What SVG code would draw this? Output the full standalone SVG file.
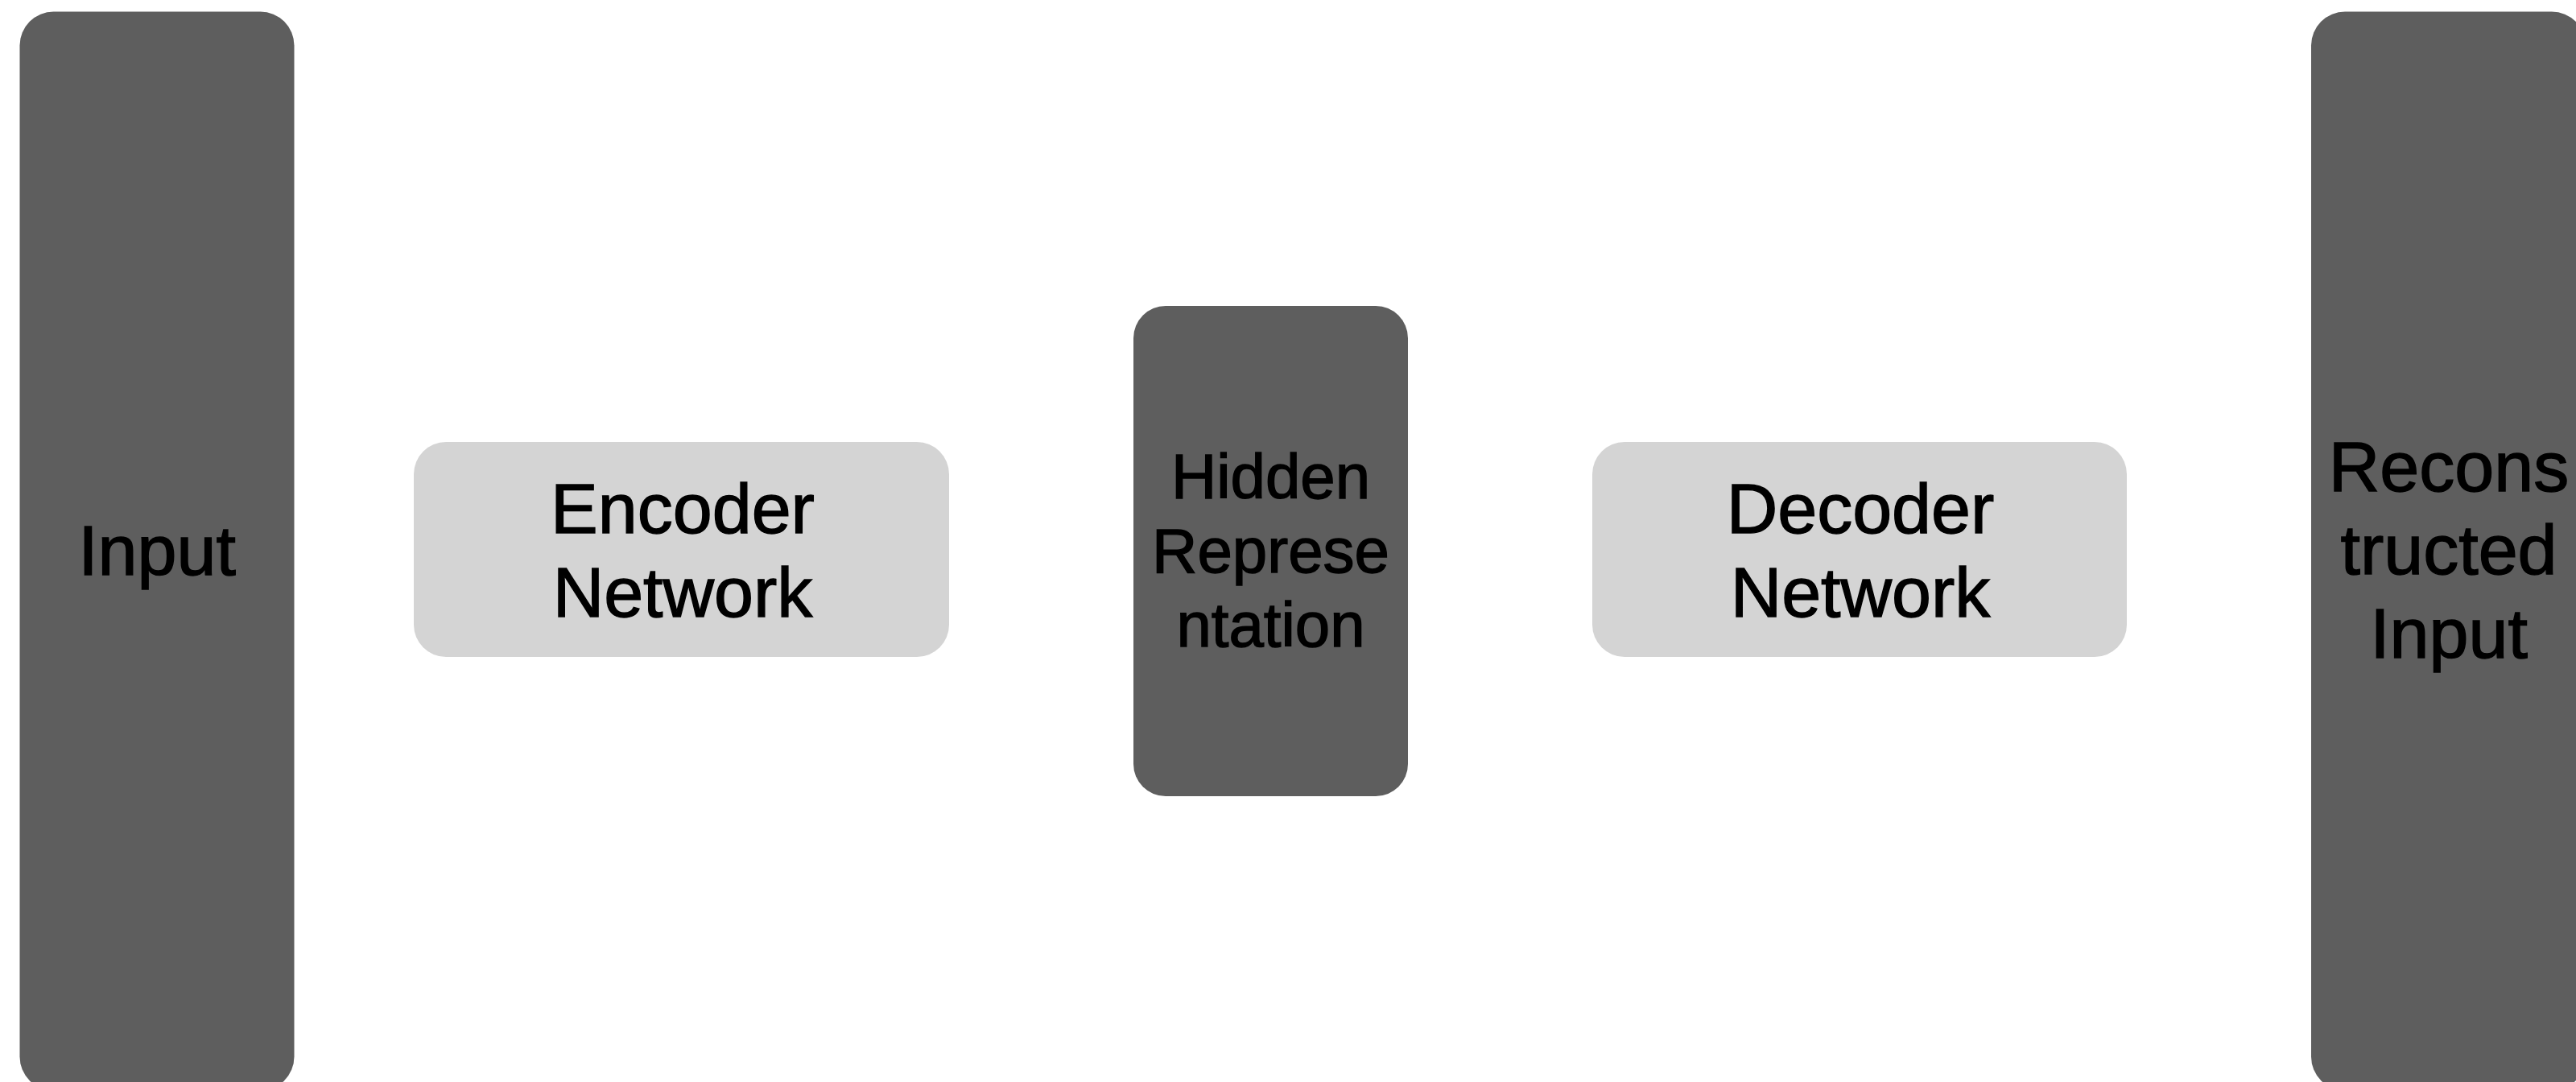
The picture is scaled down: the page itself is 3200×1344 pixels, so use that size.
<svg xmlns="http://www.w3.org/2000/svg" width="3200" height="1344" viewBox="0 0 3200 1344">
  <style>
    .dark { fill: #5e5e5e; }
    .light { fill: #d4d4d4; }
    .label { font-family: "Liberation Sans", Arial, Helvetica, sans-serif; fill: #000000; stroke: #000000; stroke-width: 1.4px; text-anchor: middle; }
    .big { font-size: 88px; }
    .mid { font-size: 78px; }
  </style>
  <rect width="3200" height="1344" fill="#ffffff"/>

  <!-- data columns -->
  <g id="input">
    <rect class="dark" x="24.5" y="14.5" width="341" height="1340" rx="42" ry="42"/>
    <text class="label big" x="195" y="714">Input</text>
  </g>

  <g id="encoder">
    <rect class="light" x="514" y="549" width="665" height="267" rx="40" ry="40"/>
    <text class="label big" x="848" y="662">Encoder</text>
    <text class="label big" x="848" y="766">Network</text>
  </g>

  <g id="hidden">
    <rect class="dark" x="1408" y="380" width="341" height="609" rx="40" ry="40"/>
    <text class="label mid" x="1578.5" y="619">Hidden</text>
    <text class="label mid" x="1578.5" y="711">Represe</text>
    <text class="label mid" x="1578.5" y="803">ntation</text>
  </g>

  <g id="decoder">
    <rect class="light" x="1978" y="549" width="664" height="267" rx="40" ry="40"/>
    <text class="label big" x="2311" y="662">Decoder</text>
    <text class="label big" x="2311" y="766">Network</text>
  </g>

  <g id="reconstructed">
    <rect class="dark" x="2871" y="14.5" width="341" height="1340" rx="42" ry="42"/>
    <text class="label big" x="3042" y="610">Recons</text>
    <text class="label big" x="3042" y="713">tructed</text>
    <text class="label big" x="3042" y="817">Input</text>
  </g>

  <g id="connectors"></g>
</svg>
